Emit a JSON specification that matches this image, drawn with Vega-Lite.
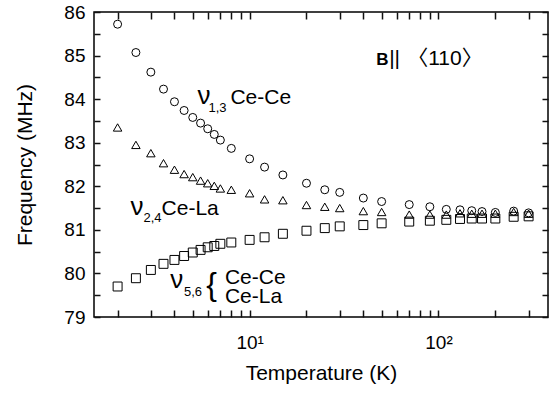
{
  "$schema": "https://vega.github.io/schema/vega-lite/v6.json",
  "width": 454,
  "height": 305,
  "autosize": {"type": "none"},
  "padding": {"left": 94, "top": 12, "right": 2, "bottom": 77},
  "config": {
    "view": {"stroke": "black", "strokeWidth": 1.5},
    "font": "Liberation Sans",
    "axis": {
      "labelFont": "Liberation Sans",
      "titleFont": "Liberation Sans",
      "labelColor": "black",
      "titleColor": "black",
      "domain": false,
      "grid": false,
      "labelOverlap": false,
      "labelFlush": false,
      "titleFontWeight": "normal"
    },
    "text": {"color": "black", "font": "Liberation Sans"}
  },
  "datasets": {
    "pts": [
      {"series": "v13", "T": 2.0, "F": 85.72},
      {"series": "v13", "T": 2.5, "F": 85.07},
      {"series": "v13", "T": 3.0, "F": 84.62},
      {"series": "v13", "T": 3.5, "F": 84.23},
      {"series": "v13", "T": 4.0, "F": 83.94},
      {"series": "v13", "T": 4.5, "F": 83.74},
      {"series": "v13", "T": 5.0, "F": 83.58},
      {"series": "v13", "T": 5.5, "F": 83.45},
      {"series": "v13", "T": 6.0, "F": 83.32},
      {"series": "v13", "T": 6.5, "F": 83.19},
      {"series": "v13", "T": 7.0, "F": 83.06},
      {"series": "v13", "T": 8.0, "F": 82.87},
      {"series": "v13", "T": 10, "F": 82.63},
      {"series": "v13", "T": 12, "F": 82.44},
      {"series": "v13", "T": 15, "F": 82.26},
      {"series": "v13", "T": 20, "F": 82.07},
      {"series": "v13", "T": 25, "F": 81.92},
      {"series": "v13", "T": 30, "F": 81.86},
      {"series": "v13", "T": 40, "F": 81.73},
      {"series": "v13", "T": 50, "F": 81.65},
      {"series": "v13", "T": 70, "F": 81.58},
      {"series": "v13", "T": 90, "F": 81.53},
      {"series": "v13", "T": 110, "F": 81.47},
      {"series": "v13", "T": 130, "F": 81.46},
      {"series": "v13", "T": 150, "F": 81.44},
      {"series": "v13", "T": 170, "F": 81.42},
      {"series": "v13", "T": 200, "F": 81.40},
      {"series": "v13", "T": 250, "F": 81.43},
      {"series": "v13", "T": 300, "F": 81.39},
      {"series": "v24", "T": 2.0, "F": 83.35},
      {"series": "v24", "T": 2.5, "F": 82.95},
      {"series": "v24", "T": 3.0, "F": 82.76},
      {"series": "v24", "T": 3.5, "F": 82.53},
      {"series": "v24", "T": 4.0, "F": 82.38},
      {"series": "v24", "T": 4.5, "F": 82.28},
      {"series": "v24", "T": 5.0, "F": 82.21},
      {"series": "v24", "T": 5.5, "F": 82.13},
      {"series": "v24", "T": 6.0, "F": 82.07},
      {"series": "v24", "T": 6.5, "F": 82.01},
      {"series": "v24", "T": 7.0, "F": 81.95},
      {"series": "v24", "T": 8.0, "F": 81.92},
      {"series": "v24", "T": 10, "F": 81.84},
      {"series": "v24", "T": 12, "F": 81.70},
      {"series": "v24", "T": 15, "F": 81.68},
      {"series": "v24", "T": 20, "F": 81.57},
      {"series": "v24", "T": 25, "F": 81.53},
      {"series": "v24", "T": 30, "F": 81.50},
      {"series": "v24", "T": 40, "F": 81.43},
      {"series": "v24", "T": 50, "F": 81.41},
      {"series": "v24", "T": 70, "F": 81.35},
      {"series": "v24", "T": 90, "F": 81.35},
      {"series": "v24", "T": 110, "F": 81.35},
      {"series": "v24", "T": 130, "F": 81.38},
      {"series": "v24", "T": 150, "F": 81.37},
      {"series": "v24", "T": 170, "F": 81.37},
      {"series": "v24", "T": 200, "F": 81.37},
      {"series": "v24", "T": 250, "F": 81.41},
      {"series": "v24", "T": 300, "F": 81.37},
      {"series": "v56", "T": 2.0, "F": 79.70},
      {"series": "v56", "T": 2.5, "F": 79.89},
      {"series": "v56", "T": 3.0, "F": 80.08},
      {"series": "v56", "T": 3.5, "F": 80.22},
      {"series": "v56", "T": 4.0, "F": 80.31},
      {"series": "v56", "T": 4.5, "F": 80.40},
      {"series": "v56", "T": 5.0, "F": 80.48},
      {"series": "v56", "T": 5.5, "F": 80.54},
      {"series": "v56", "T": 6.0, "F": 80.60},
      {"series": "v56", "T": 6.5, "F": 80.63},
      {"series": "v56", "T": 7.0, "F": 80.68},
      {"series": "v56", "T": 8.0, "F": 80.71},
      {"series": "v56", "T": 10, "F": 80.77},
      {"series": "v56", "T": 12, "F": 80.83},
      {"series": "v56", "T": 15, "F": 80.91},
      {"series": "v56", "T": 20, "F": 80.98},
      {"series": "v56", "T": 25, "F": 81.04},
      {"series": "v56", "T": 30, "F": 81.08},
      {"series": "v56", "T": 40, "F": 81.11},
      {"series": "v56", "T": 50, "F": 81.15},
      {"series": "v56", "T": 70, "F": 81.19},
      {"series": "v56", "T": 90, "F": 81.21},
      {"series": "v56", "T": 110, "F": 81.23},
      {"series": "v56", "T": 130, "F": 81.25},
      {"series": "v56", "T": 150, "F": 81.26},
      {"series": "v56", "T": 170, "F": 81.26},
      {"series": "v56", "T": 200, "F": 81.26},
      {"series": "v56", "T": 250, "F": 81.30},
      {"series": "v56", "T": 300, "F": 81.31}
    ],
    "main": [
      {"T": 7.91, "F": 83.89, "text": "Ce-Ce"},
      {"T": 3.42, "F": 81.35, "text": "Ce-La"},
      {"T": 7.4, "F": 79.76, "text": "Ce-Ce"},
      {"T": 7.4, "F": 79.33, "text": "Ce-La"}
    ],
    "nu": [
      {"T": 5.29, "F": 83.89, "text": "ν"},
      {"T": 2.34, "F": 81.35, "text": "ν"},
      {"T": 3.80, "F": 79.67, "text": "ν"}
    ],
    "sub": [
      {"T": 6.05, "F": 83.71, "text": "1,3"},
      {"T": 2.74, "F": 81.17, "text": "2,4"},
      {"T": 4.49, "F": 79.49, "text": "5,6"}
    ],
    "brace": [
      {"T": 6.3, "F": 79.74, "text": "{"}
    ],
    "bold": [
      {"T": 46.8, "F": 84.78, "text": "B"}
    ],
    "dir": [
      {"T": 54.8, "F": 84.78, "text": "||"},
      {"T": 68.3, "F": 84.78, "text": "〈110〉"}
    ]
  },
  "resolve": {"axis": {"x": "independent", "y": "independent"}},
  "layer": [
    {
      "data": {"name": "pts"},
      "mark": {"type": "point", "filled": false, "stroke": "black", "strokeWidth": 1, "opacity": 1},
      "encoding": {
        "x": {
          "field": "T", "type": "quantitative",
          "scale": {"type": "log", "domain": [1.5, 380], "nice": false},
          "axis": {
            "orient": "bottom",
            "zindex": 1,
            "values": [2, 3, 4, 5, 6, 7, 8, 9, 10, 20, 30, 40, 50, 60, 70, 80, 90, 100, 200, 300],
            "labelExpr": "datum.value == 10 ? '10¹' : (datum.value == 100 ? '10²' : '')",
            "ticks": true,
            "tickSize": -7,
            "tickColor": "#111111",
            "tickWidth": 1.5,
            "tickOpacity": 1,
            "labelFontSize": 19,
            "labelPadding": 23,
            "title": "Temperature (K)",
            "titleFontSize": 21,
            "titlePadding": 10
          }
        },
        "y": {
          "field": "F", "type": "quantitative",
          "scale": {"domain": [79, 86], "nice": false, "zero": false},
          "axis": {
            "orient": "left",
            "zindex": 1,
            "values": [79, 79.5, 80, 80.5, 81, 81.5, 82, 82.5, 83, 83.5, 84, 84.5, 85, 85.5, 86],
            "labelExpr": "datum.value % 1 == 0 ? format(datum.value, 'd') : ''",
            "ticks": true,
            "tickSize": -6,
            "tickColor": "#111111",
            "tickWidth": 1.5,
            "tickOpacity": 1,
            "labelFontSize": 19,
            "labelPadding": 15,
            "title": "Frequency (MHz)",
            "titleFontSize": 21,
            "titlePadding": 28
          }
        },
        "shape": {
          "field": "series", "type": "nominal",
          "scale": {"domain": ["v13", "v24", "v56"], "range": ["circle", "triangle-up", "square"]},
          "legend": null
        },
        "size": {
          "field": "series", "type": "ordinal",
          "scale": {"domain": ["v13", "v24", "v56"], "range": [64, 80, 56]},
          "legend": null
        }
      }
    },
    {
      "data": {"name": "main"},
      "mark": {"type": "text", "fontSize": 21, "align": "left", "baseline": "alphabetic"},
      "encoding": {
        "x": {
          "field": "T", "type": "quantitative",
          "axis": {
            "orient": "top",
            "zindex": 1,
            "values": [2, 3, 4, 5, 6, 7, 8, 9, 10, 20, 30, 40, 50, 60, 70, 80, 90, 100, 200, 300],
            "labels": false,
            "ticks": true,
            "tickSize": -7,
            "tickColor": "#111111",
            "tickWidth": 1.5,
            "tickOpacity": 1,
            "title": null
          }
        },
        "y": {
          "field": "F", "type": "quantitative",
          "axis": {
            "orient": "right",
            "zindex": 1,
            "values": [79, 79.5, 80, 80.5, 81, 81.5, 82, 82.5, 83, 83.5, 84, 84.5, 85, 85.5, 86],
            "labels": false,
            "ticks": true,
            "tickSize": -6,
            "tickColor": "#111111",
            "tickWidth": 1.5,
            "tickOpacity": 1,
            "title": null
          }
        },
        "text": {"field": "text"}
      }
    },
    {
      "data": {"name": "nu"},
      "mark": {"type": "text", "fontSize": 26, "align": "left", "baseline": "alphabetic"},
      "encoding": {
        "x": {"field": "T", "type": "quantitative", "axis": null},
        "y": {"field": "F", "type": "quantitative", "axis": null},
        "text": {"field": "text"}
      }
    },
    {
      "data": {"name": "sub"},
      "mark": {"type": "text", "fontSize": 13, "align": "left", "baseline": "alphabetic"},
      "encoding": {
        "x": {"field": "T", "type": "quantitative", "axis": null},
        "y": {"field": "F", "type": "quantitative", "axis": null},
        "text": {"field": "text"}
      }
    },
    {
      "data": {"name": "brace"},
      "mark": {"type": "text", "fontSize": 32, "align": "center", "baseline": "middle"},
      "encoding": {
        "x": {"field": "T", "type": "quantitative", "axis": null},
        "y": {"field": "F", "type": "quantitative", "axis": null},
        "text": {"field": "text"}
      }
    },
    {
      "data": {"name": "bold"},
      "mark": {"type": "text", "fontSize": 17, "fontWeight": "bold", "align": "left", "baseline": "alphabetic"},
      "encoding": {
        "x": {"field": "T", "type": "quantitative", "axis": null},
        "y": {"field": "F", "type": "quantitative", "axis": null},
        "text": {"field": "text"}
      }
    },
    {
      "data": {"name": "dir"},
      "mark": {"type": "text", "fontSize": 21, "align": "left", "baseline": "alphabetic", "font": "Liberation Sans, Noto Sans CJK JP"},
      "encoding": {
        "x": {"field": "T", "type": "quantitative", "axis": null},
        "y": {"field": "F", "type": "quantitative", "axis": null},
        "text": {"field": "text"}
      }
    }
  ]
}
